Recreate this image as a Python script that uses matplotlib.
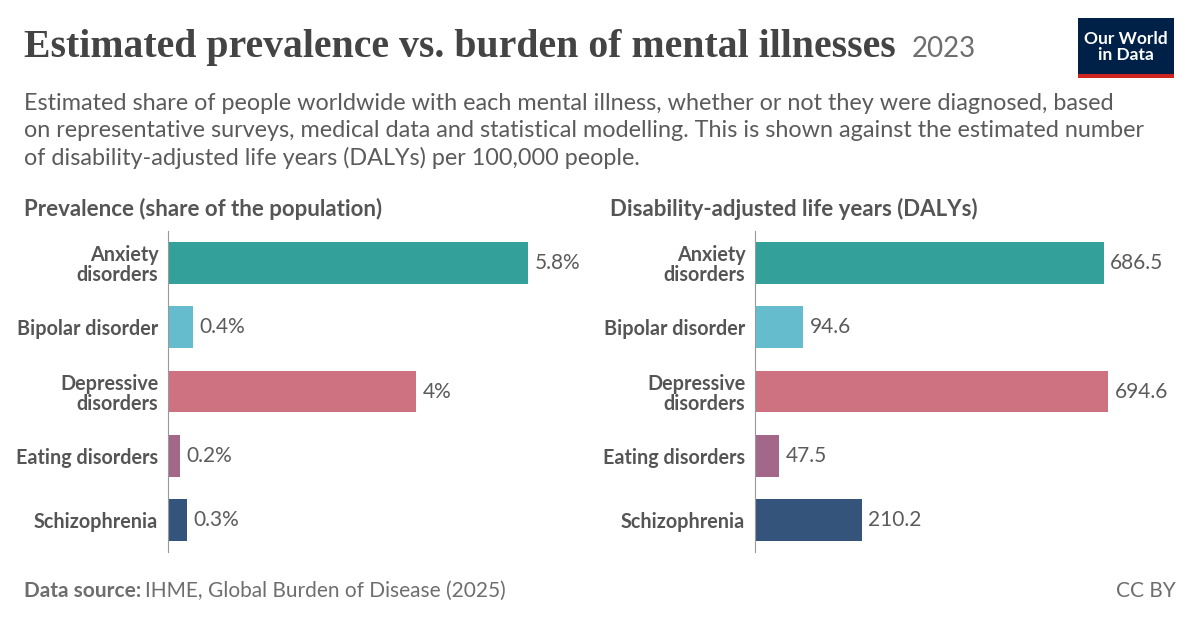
import matplotlib.pyplot as plt
import matplotlib.patches as mpatches

categories = ["Anxiety\ndisorders", "Bipolar disorder", "Depressive\ndisorders", "Eating disorders", "Schizophrenia"]
prevalence = [5.8, 0.4, 4.0, 0.2, 0.3]
prevalence_labels = ["5.8%", "0.4%", "4%", "0.2%", "0.3%"]
dalys = [686.5, 94.6, 694.6, 47.5, 210.2]
colors = ["#33A09A", "#64BCCC", "#CE7282", "#A3678A", "#34547C"]

W, H = 1200, 627
plt.rcParams['font.family'] = ['Lato', 'DejaVu Sans']
fig = plt.figure(figsize=(W / 100, H / 100), dpi=100)
fig.patch.set_facecolor("white")


def px_axes(x, y, w, h):
    return fig.add_axes([x / W, 1 - (y + h) / H, w / W, h / H])


def panel(x0, values, labels, xmax):
    ax = px_axes(x0, 231, 400, 321)
    ypos = range(len(values))
    ax.barh(ypos, values, height=0.65, color=colors)
    ax.set_xlim(0, xmax)
    ax.set_ylim(4.5, -0.5)
    for y, v, lab in zip(ypos, values, labels):
        ax.text(v + xmax * 0.016, y, lab, va="center", ha="left", fontsize=15, color="#5b5b5b")
    ax.set_yticks(list(ypos))
    ax.set_yticklabels(categories, fontsize=14.2, fontweight="bold", color="#555555", linespacing=1.0)
    ax.tick_params(axis="y", length=0, pad=7)
    ax.set_xticks([])
    for s in ["top", "right", "bottom"]:
        ax.spines[s].set_visible(False)
    ax.spines["left"].set_color("#999999")
    ax.spines["left"].set_linewidth(0.8)
    return ax


panel(168, prevalence, prevalence_labels, 400 / (360 / 5.8))
panel(755, dalys, [f"{v:.1f}" for v in dalys], 400 / (353 / 694.6))

fig.text(24 / W, 1 - 47 / H, "Estimated prevalence vs. burden of mental illnesses",
         family="Liberation Serif", fontsize=28.6, fontweight="bold", color="#444444", va="center")
fig.text(912 / W, 1 - 49 / H, "2023", fontsize=20, color="#6e6e6e", va="center")
subtitle = [
    "Estimated share of people worldwide with each mental illness, whether or not they were diagnosed, based",
    "on representative surveys, medical data and statistical modelling. This is shown against the estimated number",
    "of disability-adjusted life years (DALYs) per 100,000 people.",
]
for i, line in enumerate(subtitle):
    fig.text(24 / W, 1 - (104 + 27 * i) / H, line, fontsize=16.8, color="#5b5b5b", va="center")
fig.text(24 / W, 1 - 209 / H, "Prevalence (share of the population)", fontsize=16, fontweight="bold", color="#555555", va="center")
fig.text(610 / W, 1 - 209 / H, "Disability-adjusted life years (DALYs)", fontsize=16, fontweight="bold", color="#555555", va="center")

fig.text(24 / W, 1 - 591 / H, "Data source:", fontsize=15, fontweight="bold", color="#6e6e6e", va="center")
fig.text(145 / W, 1 - 591 / H, "IHME, Global Burden of Disease (2025)", fontsize=15, color="#6e6e6e", va="center")
fig.text(1176 / W, 1 - 591 / H, "CC BY", fontsize=15, color="#6e6e6e", va="center", ha="right")

# logo
fig.patches.append(mpatches.Rectangle((1078 / W, 1 - 78 / H), 96 / W, 60 / H, transform=fig.transFigure,
                                      facecolor="#002147", edgecolor="none"))
fig.patches.append(mpatches.Rectangle((1078 / W, 1 - 78 / H), 96 / W, 4 / H, transform=fig.transFigure,
                                      facecolor="#CE261E", edgecolor="none"))
fig.text(1126 / W, 1 - 47 / H, "Our World\nin Data", fontsize=12.5, fontweight="bold", color="white",
         ha="center", va="center", linespacing=1.0)

fig.savefig("out.png", dpi=100)
